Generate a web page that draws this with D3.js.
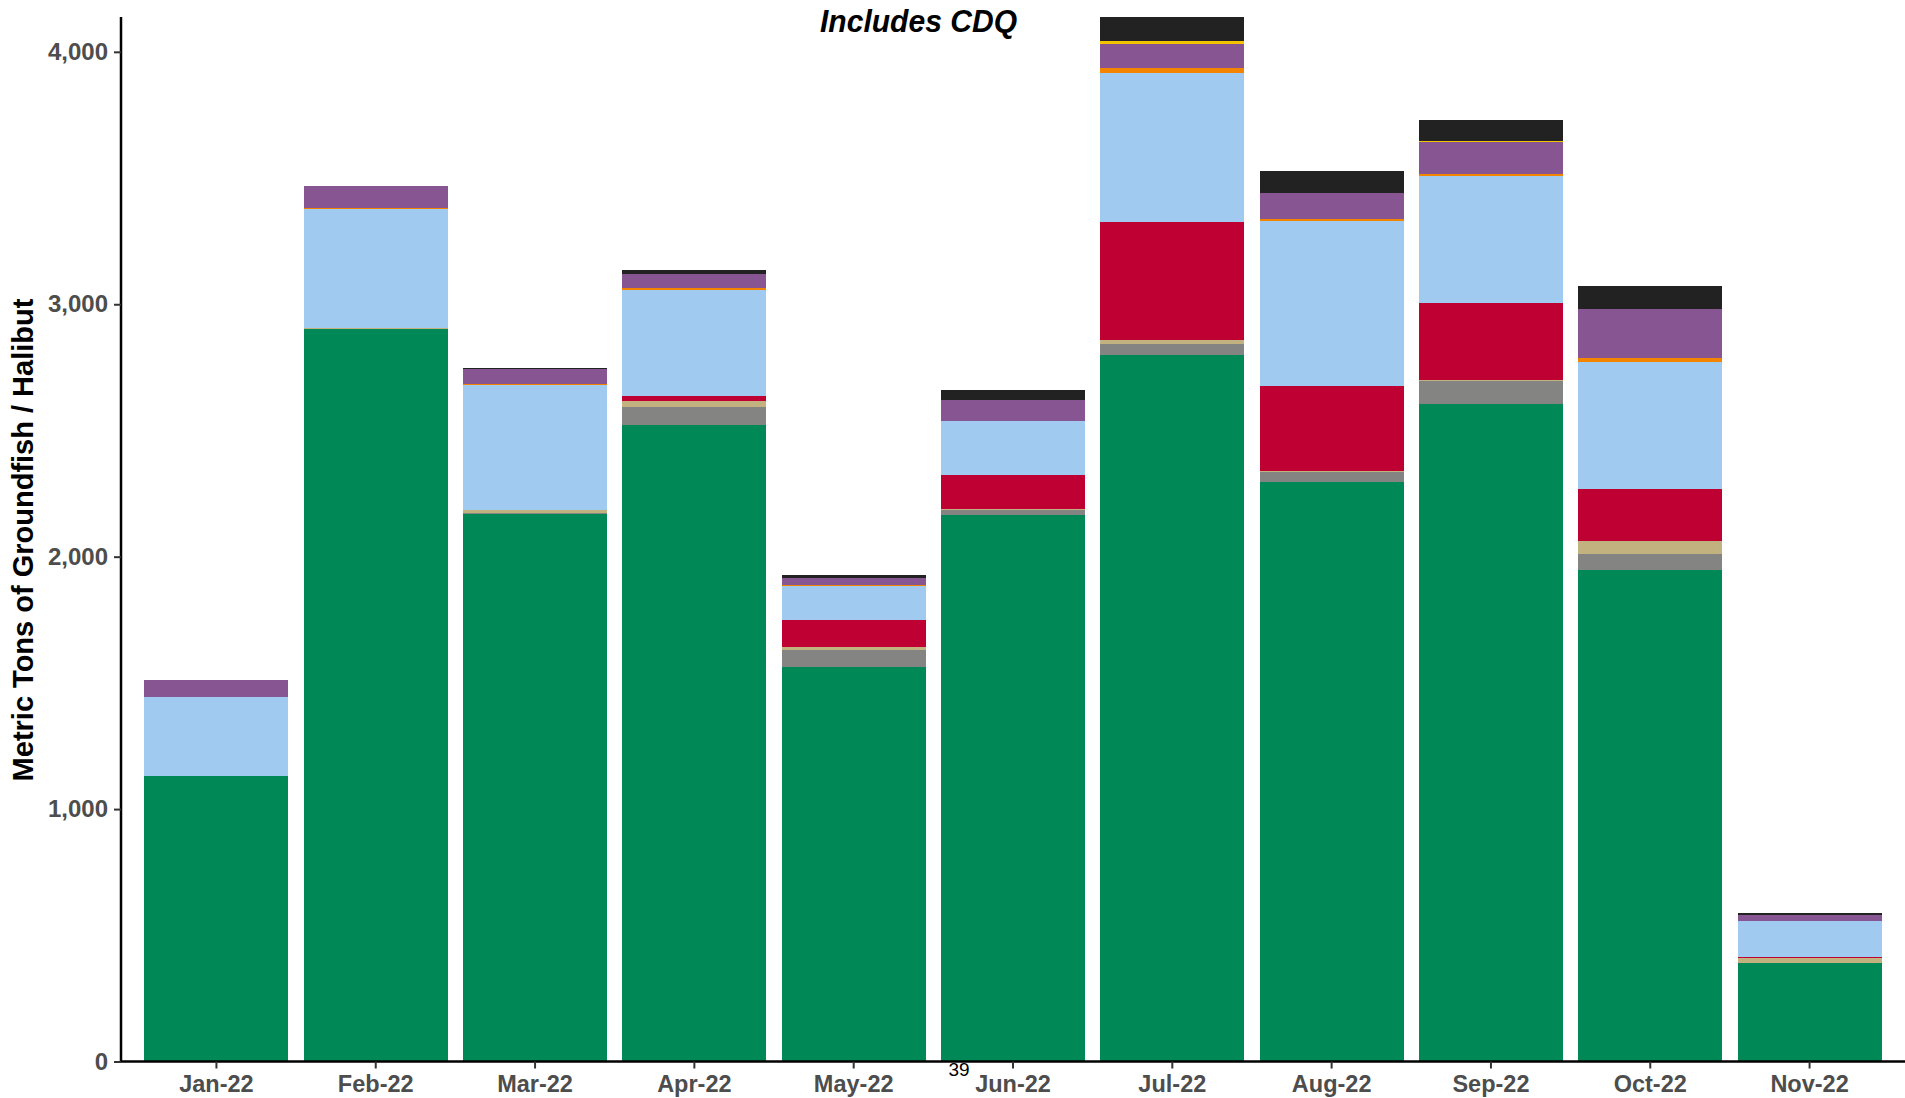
<!DOCTYPE html>
<html>
<head>
<meta charset="utf-8">
<script src="https://cdn.jsdelivr.net/npm/d3@7"></script>
<style>
  html, body { margin: 0; padding: 0; background: #fff; }
  svg { display: block; }
</style>
</head>
<body>
<svg id="chart" width="1905" height="1098"></svg>
<script>
const months = ['Jan-22', 'Feb-22', 'Mar-22', 'Apr-22', 'May-22', 'Jun-22',
  'Jul-22', 'Aug-22', 'Sep-22', 'Oct-22', 'Nov-22']

// stacked bottom -> top
const seriesKeys = ['s1', 's2', 's3', 's4', 's5', 's6', 's7', 's8', 's9']
const seriesColors = ['#008856', '#848482', '#C2B280', '#BE0032', '#A1CAF1',
  '#F38400', '#875692', '#F3C300', '#222222']

const s1 = [1131, 2903, 2169, 2522, 1563, 2165, 2800, 2296, 2605, 1947, 390]
const s2 = [0, 0, 4, 71, 67, 20, 43, 40, 91, 64, 0]
const s3 = [0, 3, 12, 24, 12, 4, 16, 4, 4, 51, 19]
const s4 = [0, 0, 0, 20, 107, 135, 467, 336, 305, 206, 5]
const s5 = [313, 472, 495, 420, 135, 214, 590, 654, 503, 504, 143]
const s6 = [0, 4, 4, 8, 4, 0, 21, 8, 8, 15, 0]
const s7 = [68, 88, 60, 55, 27, 82, 94, 103, 127, 194, 22]
const s8 = [0, 0, 0, 0, 0, 0, 12, 0, 4, 0, 0]
const s9 = [0, 0, 3, 16, 12, 40, 95, 87, 83, 91, 8]

const yTicks = [0, 1000, 2000, 3000, 4000]

const seriesValues = [s1, s2, s3, s4, s5, s6, s7, s8, s9]
const table = months.map((m, i) => {
  const row = { month: m }
  seriesKeys.forEach((k, j) => { row[k] = seriesValues[j][i] })
  return row
})

const svg = d3.select('#chart')
const plotLeft = 121, plotRight = 1905, plotTop = 17, plotBottom = 1061.5

const stack = d3.stack().keys(seriesKeys)(table)
const total = d3.max(table, (d) => d3.sum(seriesKeys, (k) => d[k]))

const x = d3.scaleBand()
  .domain(months)
  .range([plotLeft, plotRight])
  .paddingInner(0.096)
  .paddingOuter(0.147)

const y = d3.scaleLinear()
  .domain([0, total])
  .range([plotBottom, plotTop])

const color = d3.scaleOrdinal().domain(seriesKeys).range(seriesColors)

svg.append('g')
  .selectAll('g')
  .data(stack)
  .join('g')
  .attr('fill', (d) => color(d.key))
  .selectAll('rect')
  .data((d) => d)
  .join('rect')
  .attr('x', (d) => x(d.data.month))
  .attr('width', x.bandwidth())
  .attr('y', (d) => y(d[1]))
  .attr('height', (d) => Math.max(0, y(d[0]) - y(d[1])))
  .attr('shape-rendering', 'crispEdges')

// y axis
const yAxis = svg.append('g')
  .attr('transform', `translate(${plotLeft},0)`)
  .call(d3.axisLeft(y).tickValues(yTicks).tickFormat(d3.format(',')).tickSize(7).tickPadding(6))
yAxis.select('.domain').attr('stroke', '#000').attr('stroke-width', 2.5)
  .attr('d', `M0,${plotBottom}V${plotTop}`)
yAxis.selectAll('.tick line').attr('stroke', '#333').attr('stroke-width', 2)
yAxis.selectAll('.tick text')
  .attr('fill', '#4d4d4d')
  .attr('font-family', 'Liberation Sans, Arial, sans-serif')
  .attr('font-weight', 'bold')
  .attr('font-size', 24)

// x axis
const xAxis = svg.append('g')
  .attr('transform', `translate(0,${plotBottom})`)
  .call(d3.axisBottom(x).tickSize(7).tickPadding(7))
xAxis.select('.domain').attr('stroke', '#000').attr('stroke-width', 2.5)
  .attr('d', `M${plotLeft},0H${plotRight}`)
xAxis.selectAll('.tick line').attr('stroke', '#333').attr('stroke-width', 2)
xAxis.selectAll('.tick text')
  .attr('fill', '#4d4d4d')
  .attr('font-family', 'Liberation Sans, Arial, sans-serif')
  .attr('font-weight', 'bold')
  .attr('font-size', 23.5)

// axis title
svg.append('text')
  .attr('transform', 'translate(33,540) rotate(-90)')
  .attr('text-anchor', 'middle')
  .attr('font-family', 'Liberation Sans, Arial, sans-serif')
  .attr('font-weight', 'bold')
  .attr('font-size', 29)
  .attr('fill', '#000')
  .text('Metric Tons of Groundfish / Halibut')

// subtitle
svg.append('text')
  .attr('x', 820)
  .attr('y', 32)
  .attr('font-family', 'Liberation Sans Narrow, Liberation Sans, Arial, sans-serif')
  .attr('font-weight', 'bold')
  .attr('font-style', 'italic')
  .attr('font-size', 32)
  .attr('textLength', 197)
  .attr('lengthAdjust', 'spacingAndGlyphs')
  .attr('fill', '#000')
  .text('Includes CDQ')

// page number
svg.append('text')
  .attr('x', 959)
  .attr('y', 1076)
  .attr('text-anchor', 'middle')
  .attr('font-family', 'Liberation Sans, Arial, sans-serif')
  .attr('font-size', 19)
  .attr('fill', '#000')
  .text('39')
</script>
</body>
</html>
